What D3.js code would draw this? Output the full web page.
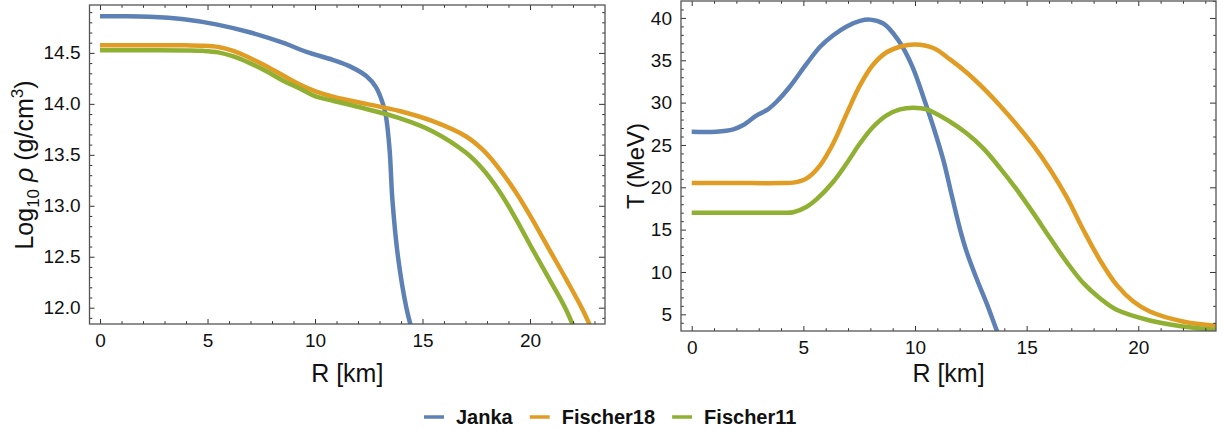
<!DOCTYPE html>
<html>
<head>
<meta charset="utf-8">
<script src="https://cdn.jsdelivr.net/npm/d3@7"></script>
<style>
  html, body { margin: 0; padding: 0; background: #fff; }
  text { font-family: "Liberation Sans", Arial, sans-serif; }
</style>
</head>
<body>
<svg id="chart" width="1225" height="434"></svg>
<script>
// ---------- data ----------
const seriesNames = ["Janka", "Fischer18", "Fischer11"];
const seriesColors = ["#5E81B5", "#E19C24", "#8FB032"];

// Left panel: log10 density vs radius
const rhoJankaR   = [0, 1, 2.3, 3.9, 5.4, 7.0, 8.5, 9.6, 10.85, 11.6, 12.4, 12.85, 13.16, 13.3, 13.47, 13.6, 13.86, 14.25, 14.55];
const rhoJankaV   = [14.86, 14.86, 14.855, 14.83, 14.78, 14.70, 14.60, 14.51, 14.43, 14.37, 14.27, 14.16, 14.0, 13.88, 13.55, 13.06, 12.5, 12.0, 11.75];
const rhoF18R     = [0, 2, 4, 4.8, 5.5, 6.2, 6.97, 7.74, 8.5, 9.29, 10.06, 10.84, 12.39, 13.93, 15.48, 17.03, 17.8, 18.58, 19.35, 20.1, 20.9, 21.68, 22.45, 22.95];
const rhoF18V     = [14.575, 14.575, 14.574, 14.571, 14.558, 14.52, 14.45, 14.37, 14.28, 14.19, 14.12, 14.07, 14.0, 13.93, 13.83, 13.68, 13.55, 13.36, 13.13, 12.87, 12.57, 12.28, 11.98, 11.75];
const rhoF11R     = [0, 2, 4, 4.8, 5.5, 6.2, 6.97, 7.74, 8.5, 9.29, 10.06, 10.84, 12.39, 13.93, 15.48, 17.03, 17.8, 18.58, 19.35, 20.1, 20.9, 21.68, 22.15];
const rhoF11V     = [14.525, 14.525, 14.524, 14.52, 14.505, 14.465, 14.40, 14.32, 14.23, 14.15, 14.07, 14.03, 13.95, 13.86, 13.73, 13.52, 13.36, 13.14, 12.87, 12.58, 12.28, 11.98, 11.75];

// Right panel: temperature vs radius
const tJankaR = [0, 1.1, 1.86, 2.31, 2.91, 3.36, 3.8, 4.4, 5.15, 5.75, 6.34, 6.94, 7.54, 7.98, 8.58, 9.03, 9.48, 9.92, 10.37, 10.82, 11.27, 11.65, 12.02, 12.31, 12.76, 13.21, 13.66, 13.8];
const tJankaV = [26.55, 26.56, 26.84, 27.35, 28.5, 29.1, 30.1, 31.9, 34.6, 36.6, 37.96, 39.0, 39.65, 39.8, 39.34, 38.16, 36.4, 34.0, 30.7, 27.15, 23.2, 19.0, 15.0, 12.4, 9.2, 6.3, 3.1, 2.2];
const tF18R   = [0, 2, 4, 4.55, 5.15, 5.75, 6.34, 6.94, 7.54, 8.13, 8.73, 9.33, 10.0, 10.82, 11.57, 12.31, 13.06, 13.8, 14.55, 15.3, 16.05, 16.8, 17.54, 18.28, 19.03, 19.78, 20.52, 22.0, 23.5];
const tF18V   = [20.5, 20.5, 20.5, 20.55, 21.06, 22.6, 25.2, 28.7, 32.06, 34.5, 35.95, 36.6, 36.86, 36.45, 35.1, 33.55, 31.7, 29.65, 27.4, 24.95, 22.1, 18.8, 14.96, 11.42, 8.48, 6.51, 5.33, 4.15, 3.64];
const tF11R   = [0, 2, 4, 4.55, 5.15, 5.6, 6.34, 6.94, 7.54, 8.13, 8.73, 9.33, 9.92, 10.52, 11.57, 12.31, 13.06, 13.8, 14.55, 15.3, 16.05, 16.8, 17.54, 18.28, 19.03, 20.52, 22.0, 23.5];
const tF11V   = [17.0, 17.0, 17.0, 17.05, 17.7, 18.6, 20.66, 22.83, 25.2, 27.15, 28.5, 29.2, 29.39, 29.2, 27.74, 26.37, 24.6, 22.3, 19.75, 16.95, 14.0, 11.15, 8.68, 6.9, 5.53, 4.27, 3.56, 3.17];

// ticks
const xTicksMajor = [0, 5, 10, 15, 20];
const rhoTicksMajor = [12.0, 12.5, 13.0, 13.5, 14.0, 14.5];
const tTicksMajor = [5, 10, 15, 20, 25, 30, 35, 40];
const tTicksRightMajor = [10, 20, 30, 40];

// ---------- drawing ----------
const svg = d3.select("#chart");
const FRAME = "#555";
const TICK = "#333";

function zip(xs, ys) { return xs.map((x, i) => [x, ys[i]]); }

function panel(opts) {
  const g = svg.append("g");
  const x = d3.scaleLinear().domain(opts.xDomain).range([opts.left, opts.right]);
  const y = d3.scaleLinear().domain(opts.yDomain).range([opts.bottom, opts.top]);
  const clipId = "clip" + opts.id;
  svg.append("defs").append("clipPath").attr("id", clipId)
    .append("rect").attr("x", opts.left).attr("y", opts.top)
    .attr("width", opts.right - opts.left).attr("height", opts.bottom - opts.top);

  const line = d3.line().x(d => x(d[0])).y(d => y(d[1])).curve(d3.curveCatmullRom.alpha(0.5));
  const lg = g.append("g").attr("clip-path", `url(#${clipId})`);
  opts.series.forEach((s, i) => {
    lg.append("path").datum(s).attr("d", line)
      .attr("fill", "none").attr("stroke", seriesColors[i])
      .attr("stroke-width", 4.5).attr("stroke-linejoin", "round").attr("stroke-linecap", "butt");
  });

  const MAJ = 5, MIN = 2.8;
  const fmt = opts.yFormat;
  const xMinor = d3.range(0, 24, 1).filter(v => v % 5 !== 0);
  const bottom = d3.axisBottom(x).tickValues(xTicksMajor).tickSize(-MAJ).tickPadding(10).tickFormat(d3.format("d"));
  const bottomMin = d3.axisBottom(x).tickValues(xMinor).tickSize(-MIN).tickFormat("");
  const topMaj = d3.axisTop(x).tickValues(xTicksMajor).tickSize(-MAJ).tickFormat("");
  const topMin = d3.axisTop(x).tickValues(xMinor).tickSize(-MIN).tickFormat("");
  const leftMaj = d3.axisLeft(y).tickValues(opts.yMajor).tickSize(-MAJ).tickPadding(9).tickFormat(fmt);
  const leftMin = d3.axisLeft(y).tickValues(opts.yMinor).tickSize(-MIN).tickFormat("");
  const rightMaj = d3.axisRight(y).tickValues(opts.yRightMajor).tickSize(-MAJ - 1).tickFormat("");
  const rightMin = d3.axisRight(y).tickValues(opts.yRightMinor).tickSize(-MIN).tickFormat("");

  function put(axis, tx, ty) {
    const a = g.append("g").attr("transform", `translate(${tx},${ty})`).call(axis);
    a.select(".domain").remove();
    a.selectAll(".tick line").attr("stroke", TICK).attr("stroke-width", 1);
    a.selectAll(".tick text").attr("fill", "#111").style("font-size", "19px")
      .style("font-family", "'Liberation Sans', Arial, sans-serif");
    return a;
  }
  put(bottom, 0, opts.bottom);
  put(bottomMin, 0, opts.bottom);
  put(topMaj, 0, opts.top);
  put(topMin, 0, opts.top);
  put(leftMaj, opts.left, 0);
  put(leftMin, opts.left, 0);
  put(rightMaj, opts.right, 0);
  put(rightMin, opts.right, 0);

  g.append("rect").attr("x", opts.left).attr("y", opts.top)
    .attr("width", opts.right - opts.left).attr("height", opts.bottom - opts.top)
    .attr("fill", "none").attr("stroke", FRAME).attr("stroke-width", 1.3);

  g.append("text").attr("x", (opts.left + opts.right) / 2).attr("y", 382)
    .attr("text-anchor", "middle").style("font-size", "25px").attr("fill", "#111")
    .text("R [km]");
  return { g, x, y };
}

const minorRange = (a, b, step, majStep) => d3.range(Math.round(a / step), Math.round(b / step) + 1)
  .map(k => +(k * step).toFixed(4)).filter(v => Math.abs(v / majStep - Math.round(v / majStep)) > 1e-6);

panel({
  id: "L", left: 89.5, right: 605, top: 5, bottom: 324,
  xDomain: [-0.49, 23.49], yDomain: [11.84, 14.97],
  series: [zip(rhoJankaR, rhoJankaV), zip(rhoF18R, rhoF18V), zip(rhoF11R, rhoF11V)],
  yMajor: rhoTicksMajor, yMinor: minorRange(11.9, 14.9, 0.1, 0.5),
  yRightMajor: rhoTicksMajor, yRightMinor: minorRange(11.9, 14.9, 0.1, 0.5),
  yFormat: d3.format(".1f")
});

panel({
  id: "R", left: 681, right: 1216, top: 1, bottom: 331,
  xDomain: [-0.48, 23.48], yDomain: [3.03, 42],
  series: [zip(tJankaR, tJankaV), zip(tF18R, tF18V), zip(tF11R, tF11V)],
  yMajor: tTicksMajor, yMinor: minorRange(4, 41, 1, 5),
  yRightMajor: tTicksRightMajor, yRightMinor: minorRange(4, 41, 2, 10),
  yFormat: d3.format("d")
});

// y labels
const yl = svg.append("text")
  .attr("transform", `translate(33,165) rotate(-90)`)
  .attr("text-anchor", "middle").style("font-size", "25px").attr("fill", "#111");
yl.append("tspan").text("Log");
yl.append("tspan").attr("dy", 6).style("font-size", "17px").text("10");
yl.append("tspan").attr("dy", -6).text(" ");
yl.append("tspan").style("font-style", "italic").text("ρ");
yl.append("tspan").text(" (g/cm");
yl.append("tspan").attr("dy", -10).style("font-size", "17px").text("3");
yl.append("tspan").attr("dy", 10).text(")");

svg.append("text")
  .attr("transform", `translate(644,166) rotate(-90)`)
  .attr("text-anchor", "middle").style("font-size", "24px").attr("fill", "#111")
  .text("T (MeV)");

// legend
const leg = svg.append("g");
let lx = 424;
const ly = 417;
seriesNames.forEach((name, i) => {
  leg.append("line").attr("x1", lx).attr("x2", lx + 20).attr("y1", ly).attr("y2", ly)
    .attr("stroke", seriesColors[i]).attr("stroke-width", 3.5);
  const t = leg.append("text").attr("x", lx + 32).attr("y", ly + 7)
    .style("font-size", "20px").style("font-weight", "bold").attr("fill", "#111").text(name);
  lx = lx + 32 + t.node().getComputedTextLength() + 17;
});
</script>
</body>
</html>
